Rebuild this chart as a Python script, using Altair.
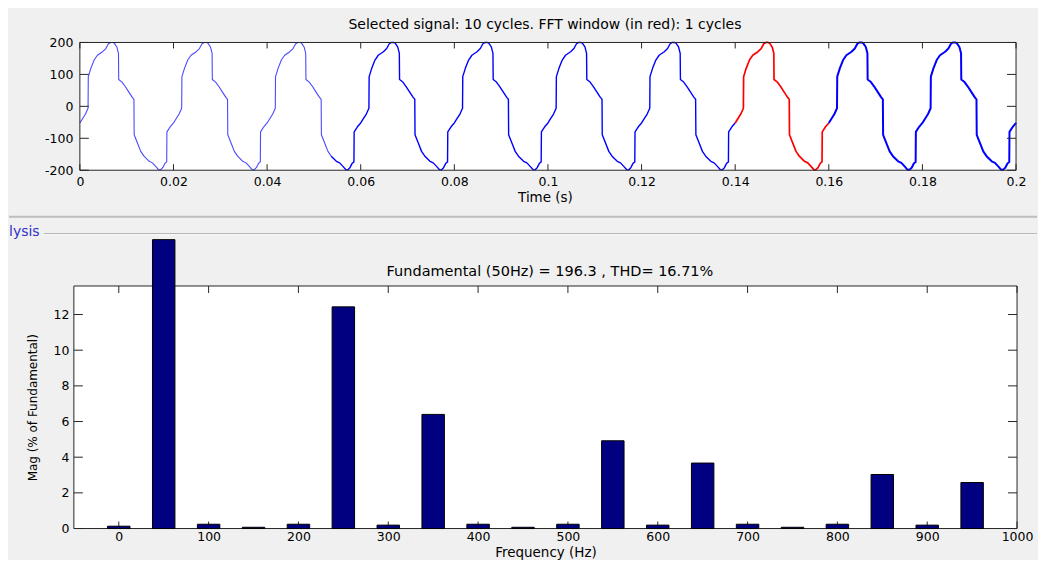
import altair as alt
import pandas as pd

FONT = "DejaVu Sans"
FRAME = "#262626"

# ---------------- data ----------------
# one 20 ms cycle of the selected signal (offset in ms, value); the record shows 10 identical cycles
cycle_ms = [0.0, 0.6, 1.2, 1.75, 1.8, 2.35, 3.05, 3.75, 4.85, 5.55,
            6.1, 6.6, 7.0, 7.35, 7.9, 8.25, 8.3, 9.0, 9.7, 10.4,
            11.2, 11.55, 11.6, 12.3, 13.0, 13.7, 14.8, 15.5, 16.2, 16.8,
            17.2, 17.7, 18.2, 18.55, 18.6, 19.3, 20.0]
cycle_val = [-52, -38, -24, -6, 93, 119, 145, 160, 171, 181,
             196, 200, 200, 198, 186, 166, 84, 76, 62, 46,
             28, 22, -89, -115, -141, -156, -172, -177, -188, -198,
             -199, -192, -178, -174, -80, -64, -52]
n_cycles = 10
period_s = 0.02
fft_window = [0.14, 0.16]      # drawn in red
thin_until = 0.0537            # first part of the trace is drawn with a thinner line

time_ticks = [0, 0.02, 0.04, 0.06, 0.08, 0.1, 0.12, 0.14, 0.16, 0.18, 0.2]
volt_ticks = [-200, -100, 0, 100, 200]
time_limits = [0, 0.2]
volt_limits = [-200, 200]

freqs = [0, 50, 100, 150, 200, 250, 300, 350, 400, 450,
         500, 550, 600, 650, 700, 750, 800, 850, 900, 950]
mags = [0.13, 100.0, 0.24, 0.07, 0.24, 12.43, 0.19, 6.40, 0.24, 0.07,
        0.24, 4.92, 0.19, 3.67, 0.24, 0.07, 0.24, 3.03, 0.19, 2.58]
freq_ticks = [0, 100, 200, 300, 400, 500, 600, 700, 800, 900, 1000]
mag_ticks = [0, 2, 4, 6, 8, 10, 12]
freq_limits = [-50, 1000]
mag_limits = [0, 13.6]
bar_width_hz = 25
shown_cap = 16.2   # the fundamental bar is cut by the panel edge at this level

title_top = "Selected signal: 10 cycles. FFT window (in red): 1 cycles"
title_bottom = "Fundamental (50Hz) = 196.3 , THD= 16.71%"

# ---------------- tables ----------------
rows = []
eps = 1e-9
for k in range(n_cycles):
    for j, (ms, v) in enumerate(zip(cycle_ms, cycle_val)):
        if k > 0 and j == 0:
            continue
        t = round(k * period_s + ms / 1000.0, 6)
        if t <= thin_until + eps:
            rows.append({"t": t, "v": v, "part": "a"})
        if thin_until - eps <= t <= fft_window[0] + eps:
            rows.append({"t": t, "v": v, "part": "b"})
        if fft_window[0] - eps <= t <= fft_window[1] + eps:
            rows.append({"t": t, "v": v, "part": "c"})
        if t >= fft_window[1] - eps:
            rows.append({"t": t, "v": v, "part": "d"})
wave_df = pd.DataFrame(rows)

bars_df = pd.DataFrame({"freq": freqs, "mag": mags})
frame_top = pd.DataFrame({"x0": [time_limits[0]], "x1": [time_limits[1]],
                          "y0": [volt_limits[0]], "y1": [volt_limits[1]]})
frame_bot = pd.DataFrame({"x0": [freq_limits[0]], "x1": [freq_limits[1]],
                          "y0": [mag_limits[0]], "y1": [mag_limits[1]]})
one = pd.DataFrame({"k": [0]})

RIGHT_END = 965   # separators run to the right edge of the chart

# ---------------- top panel ----------------
W1, H1, X1_OFF = 944, 128, 6
xs1 = alt.Scale(domain=time_limits, range=[X1_OFF, W1], nice=False, zero=False)
ys1 = alt.Scale(domain=volt_limits, nice=False, zero=False)
ax_x1 = alt.Axis(values=time_ticks, labelExpr="'' + datum.value", ticks=False, tickSize=0,
                 domain=False, grid=False, labelPadding=5, labelFlush=False, title="Time (s)",
                 titleBaseline="alphabetic", titleY=31, titleX=472)
ax_y1 = alt.Axis(values=volt_ticks, labelExpr="'' + datum.value", ticks=False, tickSize=0,
                 domain=False, grid=False, labelPadding=1, labelFlush=False, title=None)


def X1(f):
    return alt.X(f, scale=xs1, axis=ax_x1)


def Y1(f):
    return alt.Y(f, scale=ys1, axis=ax_y1)


bg1 = alt.Chart(frame_top).mark_rect(fill="white").encode(
    x=X1("x0:Q"), x2="x1:Q", y=Y1("y0:Q"), y2="y1:Q")

wave = alt.Chart(wave_df).mark_line(interpolate="linear", strokeJoin="round").encode(
    x=X1("t:Q"), y=Y1("v:Q"),
    color=alt.Color("part:N", scale=alt.Scale(domain=["a", "b", "c", "d"],
                                              range=["#4a4aff", "#0000ff", "#ff0000", "#0000ff"]),
                    legend=None),
    strokeWidth=alt.StrokeWidth("part:N", scale=alt.Scale(domain=["a", "b", "c", "d"],
                                                          range=[1.1, 2, 1.5, 2]),
                                legend=None),
    order="t:Q")

xt1 = pd.DataFrame({"t": time_ticks})
yt1 = pd.DataFrame({"v": volt_ticks})
tick_x1_b = alt.Chart(xt1).mark_rule(color=FRAME).encode(
    x=X1("t:Q"), y=alt.value(H1), y2=alt.value(H1 - 6))
tick_x1_t = alt.Chart(xt1).mark_rule(color=FRAME).encode(
    x=X1("t:Q"), y=alt.value(0), y2=alt.value(6))
tick_y1_l = alt.Chart(yt1).mark_rule(color=FRAME).encode(
    y=Y1("v:Q"), x=alt.value(X1_OFF), x2=alt.value(X1_OFF + 9))
tick_y1_r = alt.Chart(yt1).mark_rule(color=FRAME).encode(
    y=Y1("v:Q"), x=alt.value(W1), x2=alt.value(W1 - 9))

border1 = alt.Chart(frame_top).mark_rect(fillOpacity=0, stroke=FRAME, strokeWidth=1).encode(
    x=X1("x0:Q"), x2="x1:Q", y=Y1("y0:Q"), y2="y1:Q")

title1 = alt.Chart(one).mark_text(text=title_top, align="center", baseline="middle",
                                  font=FONT, fontSize=14, color="black").encode(
    x=alt.value(472), y=alt.value(-17))

sep1 = alt.Chart(one).mark_rule(color="#bdbdbd", strokeWidth=2).encode(
    x=alt.value(-65), x2=alt.value(RIGHT_END), y=alt.value(174.7))

top = alt.layer(bg1, wave, tick_x1_b, tick_x1_t, tick_y1_l, tick_y1_r, border1,
                title1, sep1).properties(width=W1, height=H1)

# ---------------- bottom panel ----------------
W2, H2 = 945, 243
xs2 = alt.Scale(domain=freq_limits, nice=False, zero=False)
ys2 = alt.Scale(domain=mag_limits, nice=False, zero=False)
ax_x2 = alt.Axis(values=freq_ticks, labelExpr="'' + datum.value", ticks=False, tickSize=0,
                 domain=False, grid=False, labelPadding=2, labelFlush=False, title="Frequency (Hz)",
                 titleBaseline="alphabetic", titleY=28.5)
ax_y2 = alt.Axis(values=mag_ticks, labelExpr="'' + datum.value", ticks=False, tickSize=0,
                 domain=False, grid=False, labelPadding=5, labelFlush=False,
                 title="Mag (% of Fundamental)", titleFontSize=12,
                 titleBaseline="alphabetic", titleX=-37, titleY=H2 / 2,
                 titleAngle=270, titleAlign="center")


def X2(f):
    return alt.X(f, scale=xs2, axis=ax_x2)


def Y2(f):
    return alt.Y(f, scale=ys2, axis=ax_y2)


bg2 = alt.Chart(frame_bot).mark_rect(fill="white").encode(
    x=X2("x0:Q"), x2="x1:Q", y=Y2("y0:Q"), y2="y1:Q")

bars = alt.Chart(bars_df).transform_calculate(
    lo=f"datum.freq - {bar_width_hz / 2}",
    hi=f"datum.freq + {bar_width_hz / 2}",
    shown=f"min(datum.mag, {shown_cap})",
    base="0",
).mark_rect(fill="#000080", stroke="black", strokeWidth=1, clip=False).encode(
    x=X2("lo:Q"), x2="hi:Q", y=Y2("shown:Q"), y2="base:Q")

xt2 = pd.DataFrame({"f": freq_ticks})
yt2 = pd.DataFrame({"m": mag_ticks})
tick_x2_b = alt.Chart(xt2).mark_rule(color=FRAME).encode(
    x=X2("f:Q"), y=alt.value(H2), y2=alt.value(H2 - 7))
tick_x2_t = alt.Chart(xt2).mark_rule(color=FRAME).encode(
    x=X2("f:Q"), y=alt.value(0), y2=alt.value(7))
tick_y2_l = alt.Chart(yt2).mark_rule(color=FRAME).encode(
    y=Y2("m:Q"), x=alt.value(0), x2=alt.value(9))
tick_y2_r = alt.Chart(yt2).mark_rule(color=FRAME).encode(
    y=Y2("m:Q"), x=alt.value(W2), x2=alt.value(W2 - 9))

border2 = alt.Chart(frame_bot).mark_rect(fillOpacity=0, stroke=FRAME, strokeWidth=1).encode(
    x=X2("x0:Q"), x2="x1:Q", y=Y2("y0:Q"), y2="y1:Q")

title2 = alt.Chart(one).mark_text(text=title_bottom, align="center", baseline="middle",
                                  font=FONT, fontSize=14.5, color="black").encode(
    x=alt.value(477), y=alt.value(-14))

# panel border line and the clipped caption of the analysis panel
sep2 = alt.Chart(one).mark_rule(color="#a0a0a0", strokeWidth=1).encode(
    x=alt.value(-30), x2=alt.value(RIGHT_END), y=alt.value(-52.3))
sep3 = alt.Chart(one).mark_rule(color="#ffffff", strokeWidth=1).encode(
    x=alt.value(-30), x2=alt.value(RIGHT_END), y=alt.value(-51.3))
caption = alt.Chart(one).mark_text(text="lysis", align="left", baseline="middle",
                                   font=FONT, fontSize=14, color="#3030c8").encode(
    x=alt.value(-65), y=alt.value(-54))

bottom = alt.layer(bg2, tick_x2_b, tick_x2_t, tick_y2_l, tick_y2_r, border2, bars,
                   title2, sep2, sep3, caption).properties(width=W2, height=H2)

chart = alt.vconcat(top, bottom, spacing=7).properties(
    padding={"left": 0, "right": 0, "top": 10, "bottom": 0},
    background="#f0f0f0",
).configure_view(stroke=None).configure_axis(
    labelFont=FONT, titleFont=FONT, labelFontSize=12.5, titleFontSize=13.5,
    labelColor="black", titleColor="black", titleFontWeight="normal",
)

chart.save("out.html", embed_options={"renderer": "svg", "actions": False})
